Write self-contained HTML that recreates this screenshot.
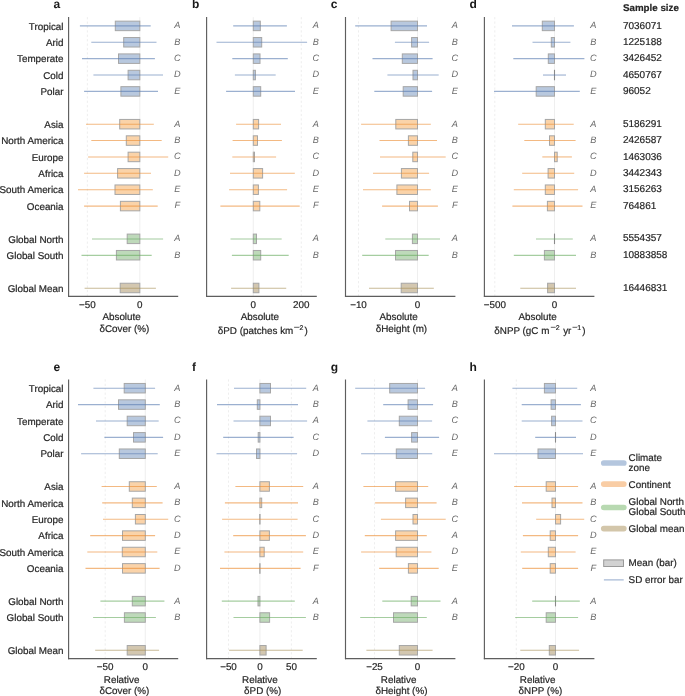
<!DOCTYPE html>
<html><head><meta charset="utf-8"><style>html,body{margin:0;padding:0;background:#fff;width:685px;height:696px;overflow:hidden}svg{display:block;will-change:transform}text{font-family:"Liberation Sans",sans-serif;text-rendering:geometricPrecision}.k{fill:#262626;stroke:#262626;stroke-width:0.2px}.l{fill:#6a6a6a}</style></head><body>
<svg width="685" height="696" viewBox="0 0 685 696">
<rect width="685" height="696" fill="#fff"/>
<text x="63.5" y="29.65" font-size="9.85" text-anchor="end" class="k">Tropical</text>
<text x="63.5" y="46.03" font-size="9.85" text-anchor="end" class="k">Arid</text>
<text x="63.5" y="62.41" font-size="9.85" text-anchor="end" class="k">Temperate</text>
<text x="63.5" y="78.79" font-size="9.85" text-anchor="end" class="k">Cold</text>
<text x="63.5" y="95.17" font-size="9.85" text-anchor="end" class="k">Polar</text>
<text x="63.5" y="127.93" font-size="9.85" text-anchor="end" class="k">Asia</text>
<text x="63.5" y="144.31" font-size="9.85" text-anchor="end" class="k">North America</text>
<text x="63.5" y="160.69" font-size="9.85" text-anchor="end" class="k">Europe</text>
<text x="63.5" y="177.07" font-size="9.85" text-anchor="end" class="k">Africa</text>
<text x="63.5" y="193.45" font-size="9.85" text-anchor="end" class="k">South America</text>
<text x="63.5" y="209.83" font-size="9.85" text-anchor="end" class="k">Oceania</text>
<text x="63.5" y="242.59" font-size="9.85" text-anchor="end" class="k">Global North</text>
<text x="63.5" y="258.97" font-size="9.85" text-anchor="end" class="k">Global South</text>
<text x="63.5" y="291.73" font-size="9.85" text-anchor="end" class="k">Global Mean</text>
<text x="63.5" y="391.95" font-size="9.85" text-anchor="end" class="k">Tropical</text>
<text x="63.5" y="408.33" font-size="9.85" text-anchor="end" class="k">Arid</text>
<text x="63.5" y="424.71" font-size="9.85" text-anchor="end" class="k">Temperate</text>
<text x="63.5" y="441.09" font-size="9.85" text-anchor="end" class="k">Cold</text>
<text x="63.5" y="457.47" font-size="9.85" text-anchor="end" class="k">Polar</text>
<text x="63.5" y="490.23" font-size="9.85" text-anchor="end" class="k">Asia</text>
<text x="63.5" y="506.61" font-size="9.85" text-anchor="end" class="k">North America</text>
<text x="63.5" y="522.99" font-size="9.85" text-anchor="end" class="k">Europe</text>
<text x="63.5" y="539.37" font-size="9.85" text-anchor="end" class="k">Africa</text>
<text x="63.5" y="555.75" font-size="9.85" text-anchor="end" class="k">South America</text>
<text x="63.5" y="572.13" font-size="9.85" text-anchor="end" class="k">Oceania</text>
<text x="63.5" y="604.89" font-size="9.85" text-anchor="end" class="k">Global North</text>
<text x="63.5" y="621.27" font-size="9.85" text-anchor="end" class="k">Global South</text>
<text x="63.5" y="654.03" font-size="9.85" text-anchor="end" class="k">Global Mean</text>
<text x="53.5" y="8.3" font-size="12" font-weight="bold" fill="#1a1a1a">a</text>
<text x="192.1" y="8.3" font-size="12" font-weight="bold" fill="#1a1a1a">b</text>
<text x="330.8" y="8.3" font-size="12" font-weight="bold" fill="#1a1a1a">c</text>
<text x="469.5" y="8.3" font-size="12" font-weight="bold" fill="#1a1a1a">d</text>
<text x="53.5" y="370.6" font-size="12" font-weight="bold" fill="#1a1a1a">e</text>
<text x="192.1" y="370.6" font-size="12" font-weight="bold" fill="#1a1a1a">f</text>
<text x="330.8" y="370.6" font-size="12" font-weight="bold" fill="#1a1a1a">g</text>
<text x="469.5" y="370.6" font-size="12" font-weight="bold" fill="#1a1a1a">h</text>
<line x1="139.8" y1="17.1" x2="139.8" y2="296.3" stroke="#ebebeb" stroke-width="0.8"/>
<line x1="87.4" y1="17.1" x2="87.4" y2="296.3" stroke="#e6e6e6" stroke-width="0.7" stroke-dasharray="2.2,2.2"/>
<rect x="115.30" y="21.15" width="24.50" height="9.50" fill="#b8c8de" stroke="#a6a6a6" stroke-width="1"/>
<line x1="79.9" y1="25.90" x2="150.7" y2="25.90" stroke="#587bb1" stroke-width="1.1" stroke-opacity="0.6"/>
<rect x="123.70" y="37.53" width="16.10" height="9.50" fill="#b8c8de" stroke="#a6a6a6" stroke-width="1"/>
<line x1="91.3" y1="42.28" x2="156.5" y2="42.28" stroke="#587bb1" stroke-width="1.1" stroke-opacity="0.6"/>
<rect x="118.50" y="53.91" width="21.30" height="9.50" fill="#b8c8de" stroke="#a6a6a6" stroke-width="1"/>
<line x1="82" y1="58.66" x2="154.9" y2="58.66" stroke="#587bb1" stroke-width="1.1" stroke-opacity="0.6"/>
<rect x="128.10" y="70.29" width="11.70" height="9.50" fill="#b8c8de" stroke="#a6a6a6" stroke-width="1"/>
<line x1="93.4" y1="75.04" x2="163" y2="75.04" stroke="#587bb1" stroke-width="1.1" stroke-opacity="0.6"/>
<rect x="120.90" y="86.67" width="18.90" height="9.50" fill="#b8c8de" stroke="#a6a6a6" stroke-width="1"/>
<line x1="84.1" y1="91.42" x2="158" y2="91.42" stroke="#587bb1" stroke-width="1.1" stroke-opacity="0.6"/>
<rect x="119.70" y="119.43" width="20.10" height="9.50" fill="#fad3a9" stroke="#a6a6a6" stroke-width="1"/>
<line x1="86" y1="124.18" x2="153.8" y2="124.18" stroke="#eb8a2f" stroke-width="1.1" stroke-opacity="0.6"/>
<rect x="126.30" y="135.81" width="13.50" height="9.50" fill="#fad3a9" stroke="#a6a6a6" stroke-width="1"/>
<line x1="91.3" y1="140.56" x2="161.7" y2="140.56" stroke="#eb8a2f" stroke-width="1.1" stroke-opacity="0.6"/>
<rect x="128.10" y="152.19" width="11.70" height="9.50" fill="#fad3a9" stroke="#a6a6a6" stroke-width="1"/>
<line x1="88.1" y1="156.94" x2="168.2" y2="156.94" stroke="#eb8a2f" stroke-width="1.1" stroke-opacity="0.6"/>
<rect x="117.60" y="168.57" width="22.20" height="9.50" fill="#fad3a9" stroke="#a6a6a6" stroke-width="1"/>
<line x1="84.1" y1="173.32" x2="151" y2="173.32" stroke="#eb8a2f" stroke-width="1.1" stroke-opacity="0.6"/>
<rect x="115.00" y="184.95" width="24.80" height="9.50" fill="#fad3a9" stroke="#a6a6a6" stroke-width="1"/>
<line x1="78" y1="189.70" x2="152.8" y2="189.70" stroke="#eb8a2f" stroke-width="1.1" stroke-opacity="0.6"/>
<rect x="120.40" y="201.33" width="19.40" height="9.50" fill="#fad3a9" stroke="#a6a6a6" stroke-width="1"/>
<line x1="84.1" y1="206.08" x2="157.7" y2="206.08" stroke="#eb8a2f" stroke-width="1.1" stroke-opacity="0.6"/>
<rect x="127.20" y="234.09" width="12.60" height="9.50" fill="#bed9ba" stroke="#a6a6a6" stroke-width="1"/>
<line x1="92" y1="238.95" x2="163.1" y2="238.95" stroke="#69ac61" stroke-width="1.1" stroke-opacity="0.6"/>
<rect x="116.40" y="250.47" width="23.40" height="9.50" fill="#bed9ba" stroke="#a6a6a6" stroke-width="1"/>
<line x1="81.5" y1="255.40" x2="151.7" y2="255.40" stroke="#69ac61" stroke-width="1.1" stroke-opacity="0.6"/>
<rect x="120.20" y="283.23" width="19.60" height="9.50" fill="#d3c7b0" stroke="#a6a6a6" stroke-width="1"/>
<line x1="84.6" y1="288.30" x2="155.9" y2="288.30" stroke="#a38a50" stroke-width="1.1" stroke-opacity="0.6"/>
<text x="177.2" y="28.30" font-size="9.2" font-style="italic" text-anchor="middle" class="l">A</text>
<text x="177.2" y="44.68" font-size="9.2" font-style="italic" text-anchor="middle" class="l">B</text>
<text x="177.2" y="61.06" font-size="9.2" font-style="italic" text-anchor="middle" class="l">C</text>
<text x="177.2" y="77.44" font-size="9.2" font-style="italic" text-anchor="middle" class="l">D</text>
<text x="177.2" y="93.82" font-size="9.2" font-style="italic" text-anchor="middle" class="l">E</text>
<text x="177.2" y="126.58" font-size="9.2" font-style="italic" text-anchor="middle" class="l">A</text>
<text x="177.2" y="142.96" font-size="9.2" font-style="italic" text-anchor="middle" class="l">B</text>
<text x="177.2" y="159.34" font-size="9.2" font-style="italic" text-anchor="middle" class="l">C</text>
<text x="177.2" y="175.72" font-size="9.2" font-style="italic" text-anchor="middle" class="l">D</text>
<text x="177.2" y="192.10" font-size="9.2" font-style="italic" text-anchor="middle" class="l">E</text>
<text x="177.2" y="208.48" font-size="9.2" font-style="italic" text-anchor="middle" class="l">F</text>
<text x="177.2" y="241.24" font-size="9.2" font-style="italic" text-anchor="middle" class="l">A</text>
<text x="177.2" y="257.62" font-size="9.2" font-style="italic" text-anchor="middle" class="l">B</text>
<line x1="68.6" y1="17.1" x2="68.6" y2="296.85" stroke="#5e5e5e" stroke-width="1.15"/>
<line x1="68.05" y1="296.3" x2="178.2" y2="296.3" stroke="#5e5e5e" stroke-width="1.15"/>
<text x="87.4" y="307.70" font-size="9.85" text-anchor="middle" class="k">−50</text>
<text x="139.8" y="307.70" font-size="9.85" text-anchor="middle" class="k">0</text>
<text x="121.60" y="320.30" font-size="9.85" text-anchor="middle" class="k">Absolute</text>
<text x="124.40" y="331.70" font-size="9.85" text-anchor="middle" class="k">δCover (%)</text>
<line x1="253.3" y1="17.1" x2="253.3" y2="296.3" stroke="#ebebeb" stroke-width="0.8"/>
<line x1="301.3" y1="17.1" x2="301.3" y2="296.3" stroke="#e6e6e6" stroke-width="0.7" stroke-dasharray="2.2,2.2"/>
<rect x="253.30" y="21.15" width="7.00" height="9.50" fill="#b8c8de" stroke="#a6a6a6" stroke-width="1"/>
<line x1="233.2" y1="25.90" x2="286.9" y2="25.90" stroke="#587bb1" stroke-width="1.1" stroke-opacity="0.6"/>
<rect x="253.30" y="37.53" width="8.40" height="9.50" fill="#b8c8de" stroke="#a6a6a6" stroke-width="1"/>
<line x1="216.5" y1="42.28" x2="307.1" y2="42.28" stroke="#587bb1" stroke-width="1.1" stroke-opacity="0.6"/>
<rect x="253.30" y="53.91" width="6.70" height="9.50" fill="#b8c8de" stroke="#a6a6a6" stroke-width="1"/>
<line x1="232.3" y1="58.66" x2="287.8" y2="58.66" stroke="#587bb1" stroke-width="1.1" stroke-opacity="0.6"/>
<rect x="253.30" y="70.29" width="2.10" height="9.50" fill="#b8c8de" stroke="#a6a6a6" stroke-width="1"/>
<line x1="234.9" y1="75.04" x2="275.7" y2="75.04" stroke="#587bb1" stroke-width="1.1" stroke-opacity="0.6"/>
<rect x="253.30" y="86.67" width="7.40" height="9.50" fill="#b8c8de" stroke="#a6a6a6" stroke-width="1"/>
<line x1="226.1" y1="91.42" x2="295" y2="91.42" stroke="#587bb1" stroke-width="1.1" stroke-opacity="0.6"/>
<rect x="253.30" y="119.43" width="5.30" height="9.50" fill="#fad3a9" stroke="#a6a6a6" stroke-width="1"/>
<line x1="236.1" y1="124.18" x2="281" y2="124.18" stroke="#eb8a2f" stroke-width="1.1" stroke-opacity="0.6"/>
<rect x="253.30" y="135.81" width="4.20" height="9.50" fill="#fad3a9" stroke="#a6a6a6" stroke-width="1"/>
<line x1="232.6" y1="140.56" x2="281.9" y2="140.56" stroke="#eb8a2f" stroke-width="1.1" stroke-opacity="0.6"/>
<rect x="253.30" y="152.19" width="1.20" height="9.50" fill="#fad3a9" stroke="#a6a6a6" stroke-width="1"/>
<line x1="232.3" y1="156.94" x2="276.1" y2="156.94" stroke="#eb8a2f" stroke-width="1.1" stroke-opacity="0.6"/>
<rect x="253.30" y="168.57" width="9.30" height="9.50" fill="#fad3a9" stroke="#a6a6a6" stroke-width="1"/>
<line x1="230" y1="173.32" x2="294.8" y2="173.32" stroke="#eb8a2f" stroke-width="1.1" stroke-opacity="0.6"/>
<rect x="253.30" y="184.95" width="5.10" height="9.50" fill="#fad3a9" stroke="#a6a6a6" stroke-width="1"/>
<line x1="229.1" y1="189.70" x2="287.1" y2="189.70" stroke="#eb8a2f" stroke-width="1.1" stroke-opacity="0.6"/>
<rect x="253.30" y="201.33" width="6.50" height="9.50" fill="#fad3a9" stroke="#a6a6a6" stroke-width="1"/>
<line x1="220.4" y1="206.08" x2="299.7" y2="206.08" stroke="#eb8a2f" stroke-width="1.1" stroke-opacity="0.6"/>
<rect x="253.30" y="234.09" width="3.20" height="9.50" fill="#bed9ba" stroke="#a6a6a6" stroke-width="1"/>
<line x1="230.5" y1="238.95" x2="281.7" y2="238.95" stroke="#69ac61" stroke-width="1.1" stroke-opacity="0.6"/>
<rect x="253.30" y="250.47" width="7.40" height="9.50" fill="#bed9ba" stroke="#a6a6a6" stroke-width="1"/>
<line x1="231.9" y1="255.40" x2="288.7" y2="255.40" stroke="#69ac61" stroke-width="1.1" stroke-opacity="0.6"/>
<rect x="253.30" y="283.23" width="5.60" height="9.50" fill="#d3c7b0" stroke="#a6a6a6" stroke-width="1"/>
<line x1="231.1" y1="288.30" x2="286.2" y2="288.30" stroke="#a38a50" stroke-width="1.1" stroke-opacity="0.6"/>
<text x="315.8" y="28.30" font-size="9.2" font-style="italic" text-anchor="middle" class="l">A</text>
<text x="315.8" y="44.68" font-size="9.2" font-style="italic" text-anchor="middle" class="l">B</text>
<text x="315.8" y="61.06" font-size="9.2" font-style="italic" text-anchor="middle" class="l">C</text>
<text x="315.8" y="77.44" font-size="9.2" font-style="italic" text-anchor="middle" class="l">D</text>
<text x="315.8" y="93.82" font-size="9.2" font-style="italic" text-anchor="middle" class="l">E</text>
<text x="315.8" y="126.58" font-size="9.2" font-style="italic" text-anchor="middle" class="l">A</text>
<text x="315.8" y="142.96" font-size="9.2" font-style="italic" text-anchor="middle" class="l">B</text>
<text x="315.8" y="159.34" font-size="9.2" font-style="italic" text-anchor="middle" class="l">C</text>
<text x="315.8" y="175.72" font-size="9.2" font-style="italic" text-anchor="middle" class="l">D</text>
<text x="315.8" y="192.10" font-size="9.2" font-style="italic" text-anchor="middle" class="l">E</text>
<text x="315.8" y="208.48" font-size="9.2" font-style="italic" text-anchor="middle" class="l">F</text>
<text x="315.8" y="241.24" font-size="9.2" font-style="italic" text-anchor="middle" class="l">A</text>
<text x="315.8" y="257.62" font-size="9.2" font-style="italic" text-anchor="middle" class="l">B</text>
<line x1="206.6" y1="17.1" x2="206.6" y2="296.85" stroke="#5e5e5e" stroke-width="1.15"/>
<line x1="206.04999999999998" y1="296.3" x2="316.8" y2="296.3" stroke="#5e5e5e" stroke-width="1.15"/>
<text x="253.3" y="307.70" font-size="9.85" text-anchor="middle" class="k">0</text>
<text x="301.3" y="307.70" font-size="9.85" text-anchor="middle" class="k">200</text>
<text x="259.90" y="320.30" font-size="9.85" text-anchor="middle" class="k">Absolute</text>
<line x1="417.5" y1="17.1" x2="417.5" y2="296.3" stroke="#ebebeb" stroke-width="0.8"/>
<line x1="358.5" y1="17.1" x2="358.5" y2="296.3" stroke="#e6e6e6" stroke-width="0.7" stroke-dasharray="2.2,2.2"/>
<rect x="391.10" y="21.15" width="26.40" height="9.50" fill="#b8c8de" stroke="#a6a6a6" stroke-width="1"/>
<line x1="355.2" y1="25.90" x2="427" y2="25.90" stroke="#587bb1" stroke-width="1.1" stroke-opacity="0.6"/>
<rect x="411.60" y="37.53" width="5.90" height="9.50" fill="#b8c8de" stroke="#a6a6a6" stroke-width="1"/>
<line x1="394.9" y1="42.28" x2="429.1" y2="42.28" stroke="#587bb1" stroke-width="1.1" stroke-opacity="0.6"/>
<rect x="402.30" y="53.91" width="15.20" height="9.50" fill="#b8c8de" stroke="#a6a6a6" stroke-width="1"/>
<line x1="372.5" y1="58.66" x2="432.6" y2="58.66" stroke="#587bb1" stroke-width="1.1" stroke-opacity="0.6"/>
<rect x="413.00" y="70.29" width="4.50" height="9.50" fill="#b8c8de" stroke="#a6a6a6" stroke-width="1"/>
<line x1="387.4" y1="75.04" x2="438.7" y2="75.04" stroke="#587bb1" stroke-width="1.1" stroke-opacity="0.6"/>
<rect x="403.20" y="86.67" width="14.30" height="9.50" fill="#b8c8de" stroke="#a6a6a6" stroke-width="1"/>
<line x1="374.3" y1="91.42" x2="432.1" y2="91.42" stroke="#587bb1" stroke-width="1.1" stroke-opacity="0.6"/>
<rect x="395.80" y="119.43" width="21.70" height="9.50" fill="#fad3a9" stroke="#a6a6a6" stroke-width="1"/>
<line x1="361.1" y1="124.18" x2="430.8" y2="124.18" stroke="#eb8a2f" stroke-width="1.1" stroke-opacity="0.6"/>
<rect x="408.40" y="135.81" width="9.10" height="9.50" fill="#fad3a9" stroke="#a6a6a6" stroke-width="1"/>
<line x1="379.5" y1="140.56" x2="437" y2="140.56" stroke="#eb8a2f" stroke-width="1.1" stroke-opacity="0.6"/>
<rect x="412.80" y="152.19" width="4.70" height="9.50" fill="#fad3a9" stroke="#a6a6a6" stroke-width="1"/>
<line x1="380" y1="156.94" x2="445.7" y2="156.94" stroke="#eb8a2f" stroke-width="1.1" stroke-opacity="0.6"/>
<rect x="401.40" y="168.57" width="16.10" height="9.50" fill="#fad3a9" stroke="#a6a6a6" stroke-width="1"/>
<line x1="373" y1="173.32" x2="429.1" y2="173.32" stroke="#eb8a2f" stroke-width="1.1" stroke-opacity="0.6"/>
<rect x="396.90" y="184.95" width="20.60" height="9.50" fill="#fad3a9" stroke="#a6a6a6" stroke-width="1"/>
<line x1="363" y1="189.70" x2="430.8" y2="189.70" stroke="#eb8a2f" stroke-width="1.1" stroke-opacity="0.6"/>
<rect x="409.50" y="201.33" width="8.00" height="9.50" fill="#fad3a9" stroke="#a6a6a6" stroke-width="1"/>
<line x1="382.1" y1="206.08" x2="437.9" y2="206.08" stroke="#eb8a2f" stroke-width="1.1" stroke-opacity="0.6"/>
<rect x="412.40" y="234.09" width="5.10" height="9.50" fill="#bed9ba" stroke="#a6a6a6" stroke-width="1"/>
<line x1="385.3" y1="238.95" x2="440" y2="238.95" stroke="#69ac61" stroke-width="1.1" stroke-opacity="0.6"/>
<rect x="395.50" y="250.47" width="22.00" height="9.50" fill="#bed9ba" stroke="#a6a6a6" stroke-width="1"/>
<line x1="362.2" y1="255.40" x2="428.7" y2="255.40" stroke="#69ac61" stroke-width="1.1" stroke-opacity="0.6"/>
<rect x="401.20" y="283.23" width="16.30" height="9.50" fill="#d3c7b0" stroke="#a6a6a6" stroke-width="1"/>
<line x1="369" y1="288.30" x2="433.8" y2="288.30" stroke="#a38a50" stroke-width="1.1" stroke-opacity="0.6"/>
<text x="454.8" y="28.30" font-size="9.2" font-style="italic" text-anchor="middle" class="l">A</text>
<text x="454.8" y="44.68" font-size="9.2" font-style="italic" text-anchor="middle" class="l">B</text>
<text x="454.8" y="61.06" font-size="9.2" font-style="italic" text-anchor="middle" class="l">C</text>
<text x="454.8" y="77.44" font-size="9.2" font-style="italic" text-anchor="middle" class="l">D</text>
<text x="454.8" y="93.82" font-size="9.2" font-style="italic" text-anchor="middle" class="l">E</text>
<text x="454.8" y="126.58" font-size="9.2" font-style="italic" text-anchor="middle" class="l">A</text>
<text x="454.8" y="142.96" font-size="9.2" font-style="italic" text-anchor="middle" class="l">B</text>
<text x="454.8" y="159.34" font-size="9.2" font-style="italic" text-anchor="middle" class="l">C</text>
<text x="454.8" y="175.72" font-size="9.2" font-style="italic" text-anchor="middle" class="l">D</text>
<text x="454.8" y="192.10" font-size="9.2" font-style="italic" text-anchor="middle" class="l">E</text>
<text x="454.8" y="208.48" font-size="9.2" font-style="italic" text-anchor="middle" class="l">F</text>
<text x="454.8" y="241.24" font-size="9.2" font-style="italic" text-anchor="middle" class="l">A</text>
<text x="454.8" y="257.62" font-size="9.2" font-style="italic" text-anchor="middle" class="l">B</text>
<line x1="345.5" y1="17.1" x2="345.5" y2="296.85" stroke="#5e5e5e" stroke-width="1.15"/>
<line x1="344.95" y1="296.3" x2="455.4" y2="296.3" stroke="#5e5e5e" stroke-width="1.15"/>
<text x="358.5" y="307.70" font-size="9.85" text-anchor="middle" class="k">−10</text>
<text x="417.5" y="307.70" font-size="9.85" text-anchor="middle" class="k">0</text>
<text x="398.65" y="320.30" font-size="9.85" text-anchor="middle" class="k">Absolute</text>
<text x="401.45" y="331.70" font-size="9.85" text-anchor="middle" class="k">δHeight (m)</text>
<line x1="554.5" y1="17.1" x2="554.5" y2="296.3" stroke="#ebebeb" stroke-width="0.8"/>
<line x1="494.8" y1="17.1" x2="494.8" y2="296.3" stroke="#e6e6e6" stroke-width="0.7" stroke-dasharray="2.2,2.2"/>
<rect x="542.30" y="21.15" width="12.20" height="9.50" fill="#b8c8de" stroke="#a6a6a6" stroke-width="1"/>
<line x1="512" y1="25.90" x2="573.9" y2="25.90" stroke="#587bb1" stroke-width="1.1" stroke-opacity="0.6"/>
<rect x="551.30" y="37.53" width="3.20" height="9.50" fill="#b8c8de" stroke="#a6a6a6" stroke-width="1"/>
<line x1="532.5" y1="42.28" x2="570.4" y2="42.28" stroke="#587bb1" stroke-width="1.1" stroke-opacity="0.6"/>
<rect x="548.30" y="53.91" width="6.20" height="9.50" fill="#b8c8de" stroke="#a6a6a6" stroke-width="1"/>
<line x1="513.3" y1="58.66" x2="584.4" y2="58.66" stroke="#587bb1" stroke-width="1.1" stroke-opacity="0.6"/>
<line x1="554.50" y1="69.79" x2="554.50" y2="80.29" stroke="#8a8a8a" stroke-width="1.1"/>
<line x1="543" y1="75.04" x2="566" y2="75.04" stroke="#587bb1" stroke-width="1.1" stroke-opacity="0.6"/>
<rect x="536.20" y="86.67" width="18.30" height="9.50" fill="#b8c8de" stroke="#a6a6a6" stroke-width="1"/>
<line x1="494" y1="91.42" x2="579.8" y2="91.42" stroke="#587bb1" stroke-width="1.1" stroke-opacity="0.6"/>
<rect x="545.30" y="119.43" width="9.20" height="9.50" fill="#fad3a9" stroke="#a6a6a6" stroke-width="1"/>
<line x1="518.2" y1="124.18" x2="573.7" y2="124.18" stroke="#eb8a2f" stroke-width="1.1" stroke-opacity="0.6"/>
<rect x="549.50" y="135.81" width="5.00" height="9.50" fill="#fad3a9" stroke="#a6a6a6" stroke-width="1"/>
<line x1="524.3" y1="140.56" x2="575.6" y2="140.56" stroke="#eb8a2f" stroke-width="1.1" stroke-opacity="0.6"/>
<rect x="554.50" y="152.19" width="2.70" height="9.50" fill="#fad3a9" stroke="#a6a6a6" stroke-width="1"/>
<line x1="542.3" y1="156.94" x2="571.9" y2="156.94" stroke="#eb8a2f" stroke-width="1.1" stroke-opacity="0.6"/>
<rect x="548.10" y="168.57" width="6.40" height="9.50" fill="#fad3a9" stroke="#a6a6a6" stroke-width="1"/>
<line x1="522.2" y1="173.32" x2="574.2" y2="173.32" stroke="#eb8a2f" stroke-width="1.1" stroke-opacity="0.6"/>
<rect x="545.30" y="184.95" width="9.20" height="9.50" fill="#fad3a9" stroke="#a6a6a6" stroke-width="1"/>
<line x1="513.8" y1="189.70" x2="578.1" y2="189.70" stroke="#eb8a2f" stroke-width="1.1" stroke-opacity="0.6"/>
<rect x="547.40" y="201.33" width="7.10" height="9.50" fill="#fad3a9" stroke="#a6a6a6" stroke-width="1"/>
<line x1="512.4" y1="206.08" x2="582.5" y2="206.08" stroke="#eb8a2f" stroke-width="1.1" stroke-opacity="0.6"/>
<line x1="554.50" y1="233.59" x2="554.50" y2="244.09" stroke="#8a8a8a" stroke-width="1.1"/>
<line x1="536" y1="238.95" x2="572.8" y2="238.95" stroke="#69ac61" stroke-width="1.1" stroke-opacity="0.6"/>
<rect x="544.40" y="250.47" width="10.10" height="9.50" fill="#bed9ba" stroke="#a6a6a6" stroke-width="1"/>
<line x1="513.8" y1="255.40" x2="576" y2="255.40" stroke="#69ac61" stroke-width="1.1" stroke-opacity="0.6"/>
<rect x="547.60" y="283.23" width="6.90" height="9.50" fill="#d3c7b0" stroke="#a6a6a6" stroke-width="1"/>
<line x1="520.3" y1="288.30" x2="576" y2="288.30" stroke="#a38a50" stroke-width="1.1" stroke-opacity="0.6"/>
<text x="593.2" y="28.30" font-size="9.2" font-style="italic" text-anchor="middle" class="l">A</text>
<text x="593.2" y="44.68" font-size="9.2" font-style="italic" text-anchor="middle" class="l">B</text>
<text x="593.2" y="61.06" font-size="9.2" font-style="italic" text-anchor="middle" class="l">C</text>
<text x="593.2" y="77.44" font-size="9.2" font-style="italic" text-anchor="middle" class="l">D</text>
<text x="593.2" y="93.82" font-size="9.2" font-style="italic" text-anchor="middle" class="l">E</text>
<text x="593.2" y="126.58" font-size="9.2" font-style="italic" text-anchor="middle" class="l">A</text>
<text x="593.2" y="142.96" font-size="9.2" font-style="italic" text-anchor="middle" class="l">B</text>
<text x="593.2" y="159.34" font-size="9.2" font-style="italic" text-anchor="middle" class="l">C</text>
<text x="593.2" y="175.72" font-size="9.2" font-style="italic" text-anchor="middle" class="l">D</text>
<text x="593.2" y="192.10" font-size="9.2" font-style="italic" text-anchor="middle" class="l">A</text>
<text x="593.2" y="208.48" font-size="9.2" font-style="italic" text-anchor="middle" class="l">E</text>
<text x="593.2" y="241.24" font-size="9.2" font-style="italic" text-anchor="middle" class="l">A</text>
<text x="593.2" y="257.62" font-size="9.2" font-style="italic" text-anchor="middle" class="l">B</text>
<line x1="484.4" y1="17.1" x2="484.4" y2="296.85" stroke="#5e5e5e" stroke-width="1.15"/>
<line x1="483.84999999999997" y1="296.3" x2="594.4" y2="296.3" stroke="#5e5e5e" stroke-width="1.15"/>
<text x="494.8" y="307.70" font-size="9.85" text-anchor="middle" class="k">−500</text>
<text x="554.5" y="307.70" font-size="9.85" text-anchor="middle" class="k">0</text>
<text x="537.60" y="320.30" font-size="9.85" text-anchor="middle" class="k">Absolute</text>
<line x1="145.3" y1="379.40000000000003" x2="145.3" y2="658.6" stroke="#ebebeb" stroke-width="0.8"/>
<line x1="105.2" y1="379.40000000000003" x2="105.2" y2="658.6" stroke="#e6e6e6" stroke-width="0.7" stroke-dasharray="2.2,2.2"/>
<rect x="124.20" y="383.45" width="21.10" height="9.50" fill="#b8c8de" stroke="#a6a6a6" stroke-width="1"/>
<line x1="93.4" y1="388.20" x2="155.1" y2="388.20" stroke="#587bb1" stroke-width="1.1" stroke-opacity="0.6"/>
<rect x="118.50" y="399.83" width="26.80" height="9.50" fill="#b8c8de" stroke="#a6a6a6" stroke-width="1"/>
<line x1="78" y1="404.58" x2="159.8" y2="404.58" stroke="#587bb1" stroke-width="1.1" stroke-opacity="0.6"/>
<rect x="127.20" y="416.21" width="18.10" height="9.50" fill="#b8c8de" stroke="#a6a6a6" stroke-width="1"/>
<line x1="96" y1="420.96" x2="158.7" y2="420.96" stroke="#587bb1" stroke-width="1.1" stroke-opacity="0.6"/>
<rect x="133.50" y="432.59" width="11.80" height="9.50" fill="#b8c8de" stroke="#a6a6a6" stroke-width="1"/>
<line x1="104.4" y1="437.34" x2="163.1" y2="437.34" stroke="#587bb1" stroke-width="1.1" stroke-opacity="0.6"/>
<rect x="119.30" y="448.97" width="26.00" height="9.50" fill="#b8c8de" stroke="#a6a6a6" stroke-width="1"/>
<line x1="81.1" y1="453.72" x2="157.7" y2="453.72" stroke="#587bb1" stroke-width="1.1" stroke-opacity="0.6"/>
<rect x="129.30" y="481.73" width="16.00" height="9.50" fill="#fad3a9" stroke="#a6a6a6" stroke-width="1"/>
<line x1="101.6" y1="486.48" x2="156.8" y2="486.48" stroke="#eb8a2f" stroke-width="1.1" stroke-opacity="0.6"/>
<rect x="132.30" y="498.11" width="13.00" height="9.50" fill="#fad3a9" stroke="#a6a6a6" stroke-width="1"/>
<line x1="102.2" y1="502.86" x2="162.6" y2="502.86" stroke="#eb8a2f" stroke-width="1.1" stroke-opacity="0.6"/>
<rect x="135.40" y="514.49" width="9.90" height="9.50" fill="#fad3a9" stroke="#a6a6a6" stroke-width="1"/>
<line x1="103" y1="519.24" x2="168.2" y2="519.24" stroke="#eb8a2f" stroke-width="1.1" stroke-opacity="0.6"/>
<rect x="122.50" y="530.87" width="22.80" height="9.50" fill="#fad3a9" stroke="#a6a6a6" stroke-width="1"/>
<line x1="90.2" y1="535.62" x2="155.1" y2="535.62" stroke="#eb8a2f" stroke-width="1.1" stroke-opacity="0.6"/>
<rect x="122.30" y="547.25" width="23.00" height="9.50" fill="#fad3a9" stroke="#a6a6a6" stroke-width="1"/>
<line x1="87.3" y1="552.00" x2="157.3" y2="552.00" stroke="#eb8a2f" stroke-width="1.1" stroke-opacity="0.6"/>
<rect x="122.50" y="563.63" width="22.80" height="9.50" fill="#fad3a9" stroke="#a6a6a6" stroke-width="1"/>
<line x1="85.5" y1="568.38" x2="159.6" y2="568.38" stroke="#eb8a2f" stroke-width="1.1" stroke-opacity="0.6"/>
<rect x="132.30" y="596.39" width="13.00" height="9.50" fill="#bed9ba" stroke="#a6a6a6" stroke-width="1"/>
<line x1="100.4" y1="601.14" x2="164.4" y2="601.14" stroke="#69ac61" stroke-width="1.1" stroke-opacity="0.6"/>
<rect x="124.40" y="612.77" width="20.90" height="9.50" fill="#bed9ba" stroke="#a6a6a6" stroke-width="1"/>
<line x1="93.1" y1="617.52" x2="155.9" y2="617.52" stroke="#69ac61" stroke-width="1.1" stroke-opacity="0.6"/>
<rect x="127.20" y="645.53" width="18.10" height="9.50" fill="#d3c7b0" stroke="#a6a6a6" stroke-width="1"/>
<line x1="95.2" y1="650.28" x2="159.1" y2="650.28" stroke="#a38a50" stroke-width="1.1" stroke-opacity="0.6"/>
<text x="177.2" y="390.60" font-size="9.2" font-style="italic" text-anchor="middle" class="l">A</text>
<text x="177.2" y="406.98" font-size="9.2" font-style="italic" text-anchor="middle" class="l">B</text>
<text x="177.2" y="423.36" font-size="9.2" font-style="italic" text-anchor="middle" class="l">C</text>
<text x="177.2" y="439.74" font-size="9.2" font-style="italic" text-anchor="middle" class="l">D</text>
<text x="177.2" y="456.12" font-size="9.2" font-style="italic" text-anchor="middle" class="l">E</text>
<text x="177.2" y="488.88" font-size="9.2" font-style="italic" text-anchor="middle" class="l">A</text>
<text x="177.2" y="505.26" font-size="9.2" font-style="italic" text-anchor="middle" class="l">B</text>
<text x="177.2" y="521.64" font-size="9.2" font-style="italic" text-anchor="middle" class="l">C</text>
<text x="177.2" y="538.02" font-size="9.2" font-style="italic" text-anchor="middle" class="l">D</text>
<text x="177.2" y="554.40" font-size="9.2" font-style="italic" text-anchor="middle" class="l">E</text>
<text x="177.2" y="570.78" font-size="9.2" font-style="italic" text-anchor="middle" class="l">D</text>
<text x="177.2" y="603.54" font-size="9.2" font-style="italic" text-anchor="middle" class="l">A</text>
<text x="177.2" y="619.92" font-size="9.2" font-style="italic" text-anchor="middle" class="l">B</text>
<line x1="68.6" y1="379.40000000000003" x2="68.6" y2="659.15" stroke="#5e5e5e" stroke-width="1.15"/>
<line x1="68.05" y1="658.6" x2="178.2" y2="658.6" stroke="#5e5e5e" stroke-width="1.15"/>
<text x="105.2" y="670.00" font-size="9.85" text-anchor="middle" class="k">−50</text>
<text x="145.3" y="670.00" font-size="9.85" text-anchor="middle" class="k">0</text>
<text x="121.60" y="682.60" font-size="9.85" text-anchor="middle" class="k">Relative</text>
<text x="124.40" y="694.00" font-size="9.85" text-anchor="middle" class="k">δCover (%)</text>
<line x1="259.9" y1="379.40000000000003" x2="259.9" y2="658.6" stroke="#ebebeb" stroke-width="0.8"/>
<line x1="228.5" y1="379.40000000000003" x2="228.5" y2="658.6" stroke="#e6e6e6" stroke-width="0.7" stroke-dasharray="2.2,2.2"/>
<line x1="291.4" y1="379.40000000000003" x2="291.4" y2="658.6" stroke="#e6e6e6" stroke-width="0.7" stroke-dasharray="2.2,2.2"/>
<rect x="259.90" y="383.45" width="10.60" height="9.50" fill="#b8c8de" stroke="#a6a6a6" stroke-width="1"/>
<line x1="234" y1="388.20" x2="306.2" y2="388.20" stroke="#587bb1" stroke-width="1.1" stroke-opacity="0.6"/>
<rect x="257.30" y="399.83" width="2.60" height="9.50" fill="#b8c8de" stroke="#a6a6a6" stroke-width="1"/>
<line x1="217" y1="404.58" x2="298" y2="404.58" stroke="#587bb1" stroke-width="1.1" stroke-opacity="0.6"/>
<rect x="259.90" y="416.21" width="10.60" height="9.50" fill="#b8c8de" stroke="#a6a6a6" stroke-width="1"/>
<line x1="233.5" y1="420.96" x2="307.1" y2="420.96" stroke="#587bb1" stroke-width="1.1" stroke-opacity="0.6"/>
<rect x="258.20" y="432.59" width="1.70" height="9.50" fill="#b8c8de" stroke="#a6a6a6" stroke-width="1"/>
<line x1="223.2" y1="437.34" x2="293.6" y2="437.34" stroke="#587bb1" stroke-width="1.1" stroke-opacity="0.6"/>
<rect x="256.50" y="448.97" width="3.40" height="9.50" fill="#b8c8de" stroke="#a6a6a6" stroke-width="1"/>
<line x1="216.5" y1="453.72" x2="297.1" y2="453.72" stroke="#587bb1" stroke-width="1.1" stroke-opacity="0.6"/>
<rect x="259.90" y="481.73" width="9.50" height="9.50" fill="#fad3a9" stroke="#a6a6a6" stroke-width="1"/>
<line x1="235.4" y1="486.48" x2="303.2" y2="486.48" stroke="#eb8a2f" stroke-width="1.1" stroke-opacity="0.6"/>
<rect x="259.90" y="498.11" width="1.80" height="9.50" fill="#fad3a9" stroke="#a6a6a6" stroke-width="1"/>
<line x1="224.9" y1="502.86" x2="298" y2="502.86" stroke="#eb8a2f" stroke-width="1.1" stroke-opacity="0.6"/>
<line x1="259.90" y1="513.99" x2="259.90" y2="524.49" stroke="#8a8a8a" stroke-width="1.1"/>
<line x1="222.1" y1="519.24" x2="297.6" y2="519.24" stroke="#eb8a2f" stroke-width="1.1" stroke-opacity="0.6"/>
<rect x="259.90" y="530.87" width="9.50" height="9.50" fill="#fad3a9" stroke="#a6a6a6" stroke-width="1"/>
<line x1="233.2" y1="535.62" x2="305.9" y2="535.62" stroke="#eb8a2f" stroke-width="1.1" stroke-opacity="0.6"/>
<rect x="259.90" y="547.25" width="4.30" height="9.50" fill="#fad3a9" stroke="#a6a6a6" stroke-width="1"/>
<line x1="224.4" y1="552.00" x2="303.2" y2="552.00" stroke="#eb8a2f" stroke-width="1.1" stroke-opacity="0.6"/>
<line x1="259.90" y1="563.13" x2="259.90" y2="573.63" stroke="#8a8a8a" stroke-width="1.1"/>
<line x1="220" y1="568.38" x2="300.6" y2="568.38" stroke="#eb8a2f" stroke-width="1.1" stroke-opacity="0.6"/>
<rect x="258.00" y="596.39" width="1.90" height="9.50" fill="#bed9ba" stroke="#a6a6a6" stroke-width="1"/>
<line x1="221.8" y1="601.14" x2="294.8" y2="601.14" stroke="#69ac61" stroke-width="1.1" stroke-opacity="0.6"/>
<rect x="259.90" y="612.77" width="9.70" height="9.50" fill="#bed9ba" stroke="#a6a6a6" stroke-width="1"/>
<line x1="233.5" y1="617.52" x2="305.9" y2="617.52" stroke="#69ac61" stroke-width="1.1" stroke-opacity="0.6"/>
<rect x="259.90" y="645.53" width="6.20" height="9.50" fill="#d3c7b0" stroke="#a6a6a6" stroke-width="1"/>
<line x1="229.1" y1="650.28" x2="302.7" y2="650.28" stroke="#a38a50" stroke-width="1.1" stroke-opacity="0.6"/>
<text x="315.8" y="390.60" font-size="9.2" font-style="italic" text-anchor="middle" class="l">A</text>
<text x="315.8" y="406.98" font-size="9.2" font-style="italic" text-anchor="middle" class="l">B</text>
<text x="315.8" y="423.36" font-size="9.2" font-style="italic" text-anchor="middle" class="l">A</text>
<text x="315.8" y="439.74" font-size="9.2" font-style="italic" text-anchor="middle" class="l">C</text>
<text x="315.8" y="456.12" font-size="9.2" font-style="italic" text-anchor="middle" class="l">D</text>
<text x="315.8" y="488.88" font-size="9.2" font-style="italic" text-anchor="middle" class="l">A</text>
<text x="315.8" y="505.26" font-size="9.2" font-style="italic" text-anchor="middle" class="l">B</text>
<text x="315.8" y="521.64" font-size="9.2" font-style="italic" text-anchor="middle" class="l">C</text>
<text x="315.8" y="538.02" font-size="9.2" font-style="italic" text-anchor="middle" class="l">D</text>
<text x="315.8" y="554.40" font-size="9.2" font-style="italic" text-anchor="middle" class="l">E</text>
<text x="315.8" y="570.78" font-size="9.2" font-style="italic" text-anchor="middle" class="l">F</text>
<text x="315.8" y="603.54" font-size="9.2" font-style="italic" text-anchor="middle" class="l">A</text>
<text x="315.8" y="619.92" font-size="9.2" font-style="italic" text-anchor="middle" class="l">B</text>
<line x1="206.6" y1="379.40000000000003" x2="206.6" y2="659.15" stroke="#5e5e5e" stroke-width="1.15"/>
<line x1="206.04999999999998" y1="658.6" x2="316.8" y2="658.6" stroke="#5e5e5e" stroke-width="1.15"/>
<text x="228.5" y="670.00" font-size="9.85" text-anchor="middle" class="k">−50</text>
<text x="259.9" y="670.00" font-size="9.85" text-anchor="middle" class="k">0</text>
<text x="291.4" y="670.00" font-size="9.85" text-anchor="middle" class="k">50</text>
<text x="259.90" y="682.60" font-size="9.85" text-anchor="middle" class="k">Relative</text>
<text x="262.70" y="694.00" font-size="9.85" text-anchor="middle" class="k">δPD (%)</text>
<line x1="417.5" y1="379.40000000000003" x2="417.5" y2="658.6" stroke="#ebebeb" stroke-width="0.8"/>
<line x1="374.5" y1="379.40000000000003" x2="374.5" y2="658.6" stroke="#e6e6e6" stroke-width="0.7" stroke-dasharray="2.2,2.2"/>
<rect x="389.70" y="383.45" width="27.80" height="9.50" fill="#b8c8de" stroke="#a6a6a6" stroke-width="1"/>
<line x1="355.2" y1="388.20" x2="425.1" y2="388.20" stroke="#587bb1" stroke-width="1.1" stroke-opacity="0.6"/>
<rect x="408.10" y="399.83" width="9.40" height="9.50" fill="#b8c8de" stroke="#a6a6a6" stroke-width="1"/>
<line x1="383.2" y1="404.58" x2="433.1" y2="404.58" stroke="#587bb1" stroke-width="1.1" stroke-opacity="0.6"/>
<rect x="399.30" y="416.21" width="18.20" height="9.50" fill="#b8c8de" stroke="#a6a6a6" stroke-width="1"/>
<line x1="367.4" y1="420.96" x2="432.1" y2="420.96" stroke="#587bb1" stroke-width="1.1" stroke-opacity="0.6"/>
<rect x="411.60" y="432.59" width="5.90" height="9.50" fill="#b8c8de" stroke="#a6a6a6" stroke-width="1"/>
<line x1="384.9" y1="437.34" x2="439.1" y2="437.34" stroke="#587bb1" stroke-width="1.1" stroke-opacity="0.6"/>
<rect x="396.30" y="448.97" width="21.20" height="9.50" fill="#b8c8de" stroke="#a6a6a6" stroke-width="1"/>
<line x1="361.1" y1="453.72" x2="432.2" y2="453.72" stroke="#587bb1" stroke-width="1.1" stroke-opacity="0.6"/>
<rect x="395.60" y="481.73" width="21.90" height="9.50" fill="#fad3a9" stroke="#a6a6a6" stroke-width="1"/>
<line x1="363.4" y1="486.48" x2="428.2" y2="486.48" stroke="#eb8a2f" stroke-width="1.1" stroke-opacity="0.6"/>
<rect x="405.60" y="498.11" width="11.90" height="9.50" fill="#fad3a9" stroke="#a6a6a6" stroke-width="1"/>
<line x1="375.1" y1="502.86" x2="436.6" y2="502.86" stroke="#eb8a2f" stroke-width="1.1" stroke-opacity="0.6"/>
<rect x="413.00" y="514.49" width="4.50" height="9.50" fill="#fad3a9" stroke="#a6a6a6" stroke-width="1"/>
<line x1="380.9" y1="519.24" x2="445.7" y2="519.24" stroke="#eb8a2f" stroke-width="1.1" stroke-opacity="0.6"/>
<rect x="395.60" y="530.87" width="21.90" height="9.50" fill="#fad3a9" stroke="#a6a6a6" stroke-width="1"/>
<line x1="364.8" y1="535.62" x2="426.8" y2="535.62" stroke="#eb8a2f" stroke-width="1.1" stroke-opacity="0.6"/>
<rect x="396.20" y="547.25" width="21.30" height="9.50" fill="#fad3a9" stroke="#a6a6a6" stroke-width="1"/>
<line x1="361.1" y1="552.00" x2="431.4" y2="552.00" stroke="#eb8a2f" stroke-width="1.1" stroke-opacity="0.6"/>
<rect x="408.40" y="563.63" width="9.10" height="9.50" fill="#fad3a9" stroke="#a6a6a6" stroke-width="1"/>
<line x1="379.2" y1="568.38" x2="438.7" y2="568.38" stroke="#eb8a2f" stroke-width="1.1" stroke-opacity="0.6"/>
<rect x="411.20" y="596.39" width="6.30" height="9.50" fill="#bed9ba" stroke="#a6a6a6" stroke-width="1"/>
<line x1="382.3" y1="601.14" x2="440.5" y2="601.14" stroke="#69ac61" stroke-width="1.1" stroke-opacity="0.6"/>
<rect x="393.50" y="612.77" width="24.00" height="9.50" fill="#bed9ba" stroke="#a6a6a6" stroke-width="1"/>
<line x1="360.2" y1="617.52" x2="426.8" y2="617.52" stroke="#69ac61" stroke-width="1.1" stroke-opacity="0.6"/>
<rect x="399.30" y="645.53" width="18.20" height="9.50" fill="#d3c7b0" stroke="#a6a6a6" stroke-width="1"/>
<line x1="366.4" y1="650.28" x2="432.6" y2="650.28" stroke="#a38a50" stroke-width="1.1" stroke-opacity="0.6"/>
<text x="454.8" y="390.60" font-size="9.2" font-style="italic" text-anchor="middle" class="l">A</text>
<text x="454.8" y="406.98" font-size="9.2" font-style="italic" text-anchor="middle" class="l">B</text>
<text x="454.8" y="423.36" font-size="9.2" font-style="italic" text-anchor="middle" class="l">C</text>
<text x="454.8" y="439.74" font-size="9.2" font-style="italic" text-anchor="middle" class="l">D</text>
<text x="454.8" y="456.12" font-size="9.2" font-style="italic" text-anchor="middle" class="l">E</text>
<text x="454.8" y="488.88" font-size="9.2" font-style="italic" text-anchor="middle" class="l">A</text>
<text x="454.8" y="505.26" font-size="9.2" font-style="italic" text-anchor="middle" class="l">B</text>
<text x="454.8" y="521.64" font-size="9.2" font-style="italic" text-anchor="middle" class="l">C</text>
<text x="454.8" y="538.02" font-size="9.2" font-style="italic" text-anchor="middle" class="l">A</text>
<text x="454.8" y="554.40" font-size="9.2" font-style="italic" text-anchor="middle" class="l">D</text>
<text x="454.8" y="570.78" font-size="9.2" font-style="italic" text-anchor="middle" class="l">E</text>
<text x="454.8" y="603.54" font-size="9.2" font-style="italic" text-anchor="middle" class="l">A</text>
<text x="454.8" y="619.92" font-size="9.2" font-style="italic" text-anchor="middle" class="l">B</text>
<line x1="345.5" y1="379.40000000000003" x2="345.5" y2="659.15" stroke="#5e5e5e" stroke-width="1.15"/>
<line x1="344.95" y1="658.6" x2="455.4" y2="658.6" stroke="#5e5e5e" stroke-width="1.15"/>
<text x="374.5" y="670.00" font-size="9.85" text-anchor="middle" class="k">−25</text>
<text x="417.5" y="670.00" font-size="9.85" text-anchor="middle" class="k">0</text>
<text x="398.65" y="682.60" font-size="9.85" text-anchor="middle" class="k">Relative</text>
<text x="401.45" y="694.00" font-size="9.85" text-anchor="middle" class="k">δHeight (%)</text>
<line x1="555.5" y1="379.40000000000003" x2="555.5" y2="658.6" stroke="#ebebeb" stroke-width="0.8"/>
<line x1="516.3" y1="379.40000000000003" x2="516.3" y2="658.6" stroke="#e6e6e6" stroke-width="0.7" stroke-dasharray="2.2,2.2"/>
<rect x="544.40" y="383.45" width="11.10" height="9.50" fill="#b8c8de" stroke="#a6a6a6" stroke-width="1"/>
<line x1="512.4" y1="388.20" x2="577.2" y2="388.20" stroke="#587bb1" stroke-width="1.1" stroke-opacity="0.6"/>
<rect x="551.10" y="399.83" width="4.40" height="9.50" fill="#b8c8de" stroke="#a6a6a6" stroke-width="1"/>
<line x1="521.7" y1="404.58" x2="580.9" y2="404.58" stroke="#587bb1" stroke-width="1.1" stroke-opacity="0.6"/>
<rect x="551.60" y="416.21" width="3.90" height="9.50" fill="#b8c8de" stroke="#a6a6a6" stroke-width="1"/>
<line x1="521.7" y1="420.96" x2="582.5" y2="420.96" stroke="#587bb1" stroke-width="1.1" stroke-opacity="0.6"/>
<line x1="555.50" y1="432.09" x2="555.50" y2="442.59" stroke="#8a8a8a" stroke-width="1.1"/>
<line x1="535.2" y1="437.34" x2="576" y2="437.34" stroke="#587bb1" stroke-width="1.1" stroke-opacity="0.6"/>
<rect x="538.00" y="448.97" width="17.50" height="9.50" fill="#b8c8de" stroke="#a6a6a6" stroke-width="1"/>
<line x1="494" y1="453.72" x2="583" y2="453.72" stroke="#587bb1" stroke-width="1.1" stroke-opacity="0.6"/>
<rect x="546.20" y="481.73" width="9.30" height="9.50" fill="#fad3a9" stroke="#a6a6a6" stroke-width="1"/>
<line x1="514.1" y1="486.48" x2="578.1" y2="486.48" stroke="#eb8a2f" stroke-width="1.1" stroke-opacity="0.6"/>
<rect x="552.00" y="498.11" width="3.50" height="9.50" fill="#fad3a9" stroke="#a6a6a6" stroke-width="1"/>
<line x1="522" y1="502.86" x2="582.5" y2="502.86" stroke="#eb8a2f" stroke-width="1.1" stroke-opacity="0.6"/>
<rect x="555.50" y="514.49" width="5.10" height="9.50" fill="#fad3a9" stroke="#a6a6a6" stroke-width="1"/>
<line x1="536.2" y1="519.24" x2="584.2" y2="519.24" stroke="#eb8a2f" stroke-width="1.1" stroke-opacity="0.6"/>
<rect x="550.20" y="530.87" width="5.30" height="9.50" fill="#fad3a9" stroke="#a6a6a6" stroke-width="1"/>
<line x1="522.9" y1="535.62" x2="578.1" y2="535.62" stroke="#eb8a2f" stroke-width="1.1" stroke-opacity="0.6"/>
<rect x="548.30" y="547.25" width="7.20" height="9.50" fill="#fad3a9" stroke="#a6a6a6" stroke-width="1"/>
<line x1="520.8" y1="552.00" x2="575.6" y2="552.00" stroke="#eb8a2f" stroke-width="1.1" stroke-opacity="0.6"/>
<rect x="550.20" y="563.63" width="5.30" height="9.50" fill="#fad3a9" stroke="#a6a6a6" stroke-width="1"/>
<line x1="522.2" y1="568.38" x2="578.1" y2="568.38" stroke="#eb8a2f" stroke-width="1.1" stroke-opacity="0.6"/>
<line x1="555.50" y1="595.89" x2="555.50" y2="606.39" stroke="#8a8a8a" stroke-width="1.1"/>
<line x1="532.2" y1="601.14" x2="579.8" y2="601.14" stroke="#69ac61" stroke-width="1.1" stroke-opacity="0.6"/>
<rect x="546.20" y="612.77" width="9.30" height="9.50" fill="#bed9ba" stroke="#a6a6a6" stroke-width="1"/>
<line x1="515.2" y1="617.52" x2="578.1" y2="617.52" stroke="#69ac61" stroke-width="1.1" stroke-opacity="0.6"/>
<rect x="549.30" y="645.53" width="6.20" height="9.50" fill="#d3c7b0" stroke="#a6a6a6" stroke-width="1"/>
<line x1="520.3" y1="650.28" x2="579.1" y2="650.28" stroke="#a38a50" stroke-width="1.1" stroke-opacity="0.6"/>
<text x="593.2" y="390.60" font-size="9.2" font-style="italic" text-anchor="middle" class="l">A</text>
<text x="593.2" y="406.98" font-size="9.2" font-style="italic" text-anchor="middle" class="l">B</text>
<text x="593.2" y="423.36" font-size="9.2" font-style="italic" text-anchor="middle" class="l">C</text>
<text x="593.2" y="439.74" font-size="9.2" font-style="italic" text-anchor="middle" class="l">D</text>
<text x="593.2" y="456.12" font-size="9.2" font-style="italic" text-anchor="middle" class="l">E</text>
<text x="593.2" y="488.88" font-size="9.2" font-style="italic" text-anchor="middle" class="l">A</text>
<text x="593.2" y="505.26" font-size="9.2" font-style="italic" text-anchor="middle" class="l">B</text>
<text x="593.2" y="521.64" font-size="9.2" font-style="italic" text-anchor="middle" class="l">C</text>
<text x="593.2" y="538.02" font-size="9.2" font-style="italic" text-anchor="middle" class="l">D</text>
<text x="593.2" y="554.40" font-size="9.2" font-style="italic" text-anchor="middle" class="l">E</text>
<text x="593.2" y="570.78" font-size="9.2" font-style="italic" text-anchor="middle" class="l">F</text>
<text x="593.2" y="603.54" font-size="9.2" font-style="italic" text-anchor="middle" class="l">A</text>
<text x="593.2" y="619.92" font-size="9.2" font-style="italic" text-anchor="middle" class="l">B</text>
<line x1="484.4" y1="379.40000000000003" x2="484.4" y2="659.15" stroke="#5e5e5e" stroke-width="1.15"/>
<line x1="483.84999999999997" y1="658.6" x2="594.4" y2="658.6" stroke="#5e5e5e" stroke-width="1.15"/>
<text x="516.3" y="670.00" font-size="9.85" text-anchor="middle" class="k">−20</text>
<text x="555.5" y="670.00" font-size="9.85" text-anchor="middle" class="k">0</text>
<text x="537.60" y="682.60" font-size="9.85" text-anchor="middle" class="k">Relative</text>
<text x="540.40" y="694.00" font-size="9.85" text-anchor="middle" class="k">δNPP (%)</text>
<text x="217.8" y="333.6" font-size="9.85" class="k">δPD (patches km</text>
<line x1="294.1" y1="327.3" x2="299.4" y2="327.3" stroke="#262626" stroke-width="0.75"/>
<text x="299.5" y="329.9" font-size="7" class="k">2</text>
<text x="304.6" y="333.6" font-size="9.85" class="k">)</text>
<text x="494.3" y="333.6" font-size="9.85" class="k">δNPP (gC m</text>
<line x1="550.8" y1="327.3" x2="555.7" y2="327.3" stroke="#262626" stroke-width="0.75"/>
<text x="555.8" y="329.9" font-size="7" class="k">2</text>
<text x="563.2" y="333.6" font-size="9.85" class="k">yr</text>
<line x1="572.5" y1="327.3" x2="577.2" y2="327.3" stroke="#262626" stroke-width="0.75"/>
<text x="577.2" y="329.9" font-size="7" class="k">1</text>
<text x="582.3" y="333.6" font-size="9.85" class="k">)</text>
<text x="623" y="11.2" font-size="9.75" font-weight="bold" class="k">Sample size</text>
<text x="622.9" y="28.50" font-size="10" class="k">7036071</text>
<text x="622.9" y="44.88" font-size="10" class="k">1225188</text>
<text x="622.9" y="61.26" font-size="10" class="k">3426452</text>
<text x="622.9" y="77.64" font-size="10" class="k">4650767</text>
<text x="622.9" y="94.02" font-size="10" class="k">96052</text>
<text x="622.9" y="126.78" font-size="10" class="k">5186291</text>
<text x="622.9" y="143.16" font-size="10" class="k">2426587</text>
<text x="622.9" y="159.54" font-size="10" class="k">1463036</text>
<text x="622.9" y="175.92" font-size="10" class="k">3442343</text>
<text x="622.9" y="192.30" font-size="10" class="k">3156263</text>
<text x="622.9" y="208.68" font-size="10" class="k">764861</text>
<text x="622.9" y="241.44" font-size="10" class="k">5554357</text>
<text x="622.9" y="257.82" font-size="10" class="k">10883858</text>
<text x="622.9" y="290.58" font-size="10" class="k">16446831</text>
<line x1="603.8" y1="463.0" x2="623.8" y2="463.0" stroke="#b4c6de" stroke-width="5.7" stroke-linecap="round"/>
<text x="628.6" y="460.6" font-size="9.85" class="k">Climate</text>
<text x="628.6" y="470.8" font-size="9.85" class="k">zone</text>
<line x1="603.8" y1="484.1" x2="623.8" y2="484.1" stroke="#f9cda5" stroke-width="5.7" stroke-linecap="round"/>
<text x="628.6" y="487.6" font-size="9.85" class="k">Continent</text>
<line x1="603.8" y1="507.5" x2="623.8" y2="507.5" stroke="#b8d9b1" stroke-width="5.7" stroke-linecap="round"/>
<text x="628.6" y="504.8" font-size="9.85" class="k">Global North</text>
<text x="628.6" y="515.2" font-size="9.85" class="k">Global South</text>
<line x1="603.8" y1="528.6" x2="623.8" y2="528.6" stroke="#d3c6aa" stroke-width="5.7" stroke-linecap="round"/>
<text x="628.6" y="531.7" font-size="9.85" class="k">Global mean</text>
<rect x="603.7" y="559.9" width="19.8" height="6.6" fill="#d2d2d2" stroke="#9a9a9a" stroke-width="1"/>
<text x="628.6" y="565.9" font-size="9.85" class="k">Mean (bar)</text>
<line x1="603.9" y1="579.9" x2="623.7" y2="579.9" stroke="#587bb1" stroke-width="1.1" stroke-opacity="0.6"/>
<text x="628.6" y="582.7" font-size="9.85" class="k">SD error bar</text>
</svg></body></html>
